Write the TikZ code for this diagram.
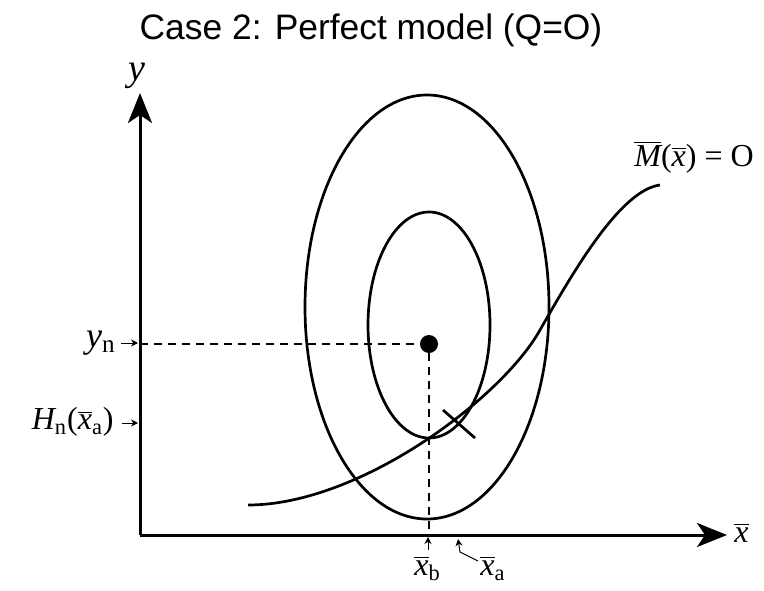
\documentclass[tikz,border=0pt]{standalone}
\usepackage{fontspec}
\setmainfont{Liberation Serif}
\newfontfamily\titlefont{Liberation Sans}
\usetikzlibrary{arrows.meta}
\newcommand{\xb}{$\overline{\hbox{\itshape x}}$}
\tikzset{
  eje/.style={line width=1.5pt,-{Stealth[length=15pt,width=12pt,inset=4pt]}},
  curva/.style={line width=1.35pt},
  guia/.style={line width=0.6pt,dash pattern=on 4pt off 3pt},
  flecha/.style={line width=0.5pt,-{Stealth[length=3.5pt,width=3.5pt]}},
  etiq/.style={font=\fontsize{16}{19}\selectfont,inner sep=0pt}
}
\begin{document}
\begin{tikzpicture}[x=0.5pt,y=0.5pt]
		\useasboundingbox (0,0) rectangle (764,590);
		
		% titulo
		\node[font=\titlefont\fontsize{17.7}{20}\selectfont] (titulo) at (371,560) {Case 2: Perfect model (Q=O)};
		
		% ejes
		\coordinate (origen) at (140,55);
		\coordinate (ytope) at (140,497);
		\coordinate (xtope) at (727,55);
		\draw[eje] (origen) -- (ytope);
		\draw[eje] (origen) -- (xtope);
		\node[etiq,font=\fontsize{19}{22}\selectfont\itshape] (ylab) at (137,514) {y};
		\node[etiq,anchor=west] (xlab) at (734,57) {\xb};
		
		% elipses
		\draw[curva] (427,283) ellipse [x radius=122,y radius=212];
		\draw[curva] (429,265) ellipse [x radius=61,y radius=113];
		\node[circle,fill,inner sep=0pt,minimum size=9pt] (centro) at (429,246) {};
		
		% guias
		\coordinate (yeje) at (140,246);
		\coordinate (xeje) at (429,55);
		\draw[guia] (yeje) -- (centro);
		\draw[guia] (centro) -- (xeje);
		
		% curva M
		\draw[curva] (248,85) .. controls (360,85) and (502,192) .. (540,260)
		  .. controls (572,316) and (620,400) .. (660,405);
		\coordinate (marcaA) at (443,180);
		\coordinate (marcaB) at (475,152);
		\draw[curva] (marcaA) -- (marcaB);
		\node[etiq,anchor=west] (mlab) at (634,433) {$\overline{\hbox{\itshape M}}$(\xb) = O};
		
		% etiquetas eje y
		\node[etiq,anchor=east,font=\fontsize{18}{21}\selectfont] (yn) at (116,247) {\itshape y\textsubscript{\upshape n}};
		\coordinate (ynA) at (121,247);
		\coordinate (ynB) at (138,247);
		\draw[flecha] (ynA) -- (ynB);
		\node[etiq,anchor=east] (hn) at (114,168) {\itshape H\textsubscript{\upshape n}\upshape(\xb\textsubscript{a})};
		\coordinate (hnA) at (122,167);
		\coordinate (hnB) at (138,167);
		\draw[flecha] (hnA) -- (hnB);
		
		% etiquetas eje x
		\node[etiq,anchor=north west] (xblab) at (414,34) {\xb\textsubscript{b}};
		\coordinate (xbA) at (428,40);
		\coordinate (xbB) at (428,53);
		\draw[flecha] (xbA) -- (xbB);
		\node[etiq,anchor=north west] (xalab) at (480,34) {\xb\textsubscript{a}};
		\coordinate (xaA) at (478,29);
		\coordinate (xaB) at (460,38);
		\coordinate (xaC) at (458,51);
		\draw[flecha] (xaA) -- (xaB) -- (xaC);
	\end{tikzpicture}
\end{document}
